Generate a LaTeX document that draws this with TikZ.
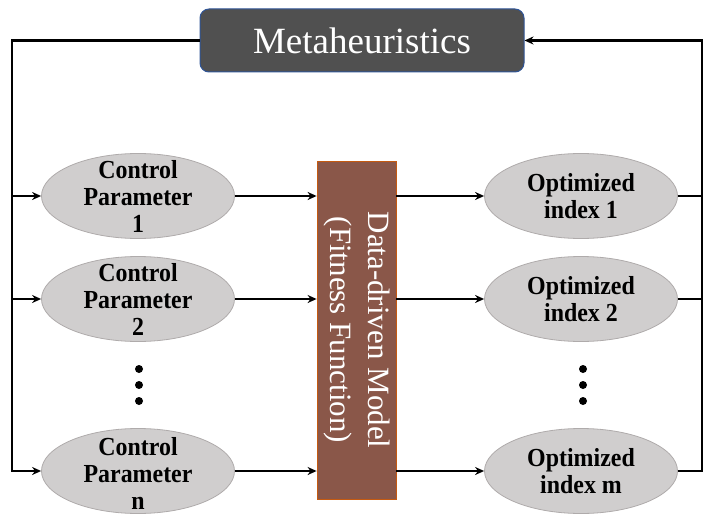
\documentclass[tikz,border=0pt]{standalone}
\usepackage{fontspec}
\setmainfont{Liberation Serif}
\newfontfamily\condbold[FakeStretch=0.92]{Liberation Serif Bold}
\usetikzlibrary{arrows.meta,shapes.geometric}
\definecolor{metafill}{RGB}{80,80,80}
\definecolor{metaedge}{RGB}{47,85,151}
\definecolor{ellfill}{RGB}{208,206,206}
\definecolor{elledge}{RGB}{175,171,171}
\definecolor{dmfill}{RGB}{138,87,73}
\definecolor{dmedge}{RGB}{197,90,17}
\begin{document}
\begin{tikzpicture}[x=1pt,y=-1pt,
  conn/.style={line width=2.7pt, black},
  arr/.style={conn, -{Stealth[length=9pt,width=8pt]}},
  ell/.style={ellipse, draw=elledge, fill=ellfill, line width=0.8pt, minimum width=193pt, minimum height=85pt, inner sep=0pt},
  elltext/.style={align=center, font=\condbold\fontsize{26}{27}\selectfont, inner sep=0pt},
  dotc/.style={circle, fill=black, inner sep=0pt, minimum size=8pt}
]
\useasboundingbox (0,0) rectangle (714,524);

\node[draw=metaedge, fill=metafill, rounded corners=9pt, line width=1pt, minimum width=324pt, minimum height=63pt, inner sep=0pt, text=white, font=\fontsize{37}{40}\selectfont] (meta) at (362,40.5) {Metaheuristics};

\node[ell] (cp1) at (138,196) {};
\node[ell] (cp2) at (138,299) {};
\node[ell] (cpn) at (138,471) {};
\node[ell] (oi1) at (581,196) {};
\node[ell] (oi2) at (581,299) {};
\node[ell] (oim) at (581,471) {};

\node[elltext] (t1) at (cp1) {Control\\Parameter\\1};
\node[elltext] (t2) at (cp2) {Control\\Parameter\\2};
\node[elltext] (tn) at ([yshift=-2pt]cpn) {Control\\Parameter\\n};
\node[elltext] (u1) at (oi1) {Optimized\\index 1};
\node[elltext] (u2) at (oi2) {Optimized\\index 2};
\node[elltext] (um) at (oim) {Optimized\\index m};

\node[draw=dmedge, fill=dmfill, line width=0.8pt, minimum width=79pt, minimum height=338pt, inner sep=0pt] (dm) at (356.5,330) {};
\node[rotate=-90, text=white, align=center, font=\fontsize{31}{38}\selectfont, inner sep=0pt] (dmt) at (dm) {Data-driven Model\\(Fitness Function)};

\node[dotc] (ld1) at (139,369) {};
\node[dotc] (ld2) at (139,385) {};
\node[dotc] (ld3) at (139,401) {};
\node[dotc] (rd1) at (583,369) {};
\node[dotc] (rd2) at (583,385) {};
\node[dotc] (rd3) at (583,401) {};

\coordinate (LB) at (12,471);
\coordinate (RB) at (702,471);

\draw[arr] (meta.west) -| (LB) -- (cpn.west);
\draw[arr] (cp1.west -| LB) -- (cp1.west);
\draw[arr] (cp2.west -| LB) -- (cp2.west);

\draw[arr] (oim.east) -- (RB) |- (meta.east);
\draw[conn] (oi1.east) -- (oi1.east -| RB);
\draw[conn] (oi2.east) -- (oi2.east -| RB);

\foreach \r in {cp1,cp2,cpn}{
  \draw[arr] (\r.east) -- (\r.east -| dm.west);
}
\foreach \r in {oi1,oi2,oim}{
  \draw[arr] (\r.west -| dm.east) -- (\r.west);
}
\end{tikzpicture}
\end{document}
